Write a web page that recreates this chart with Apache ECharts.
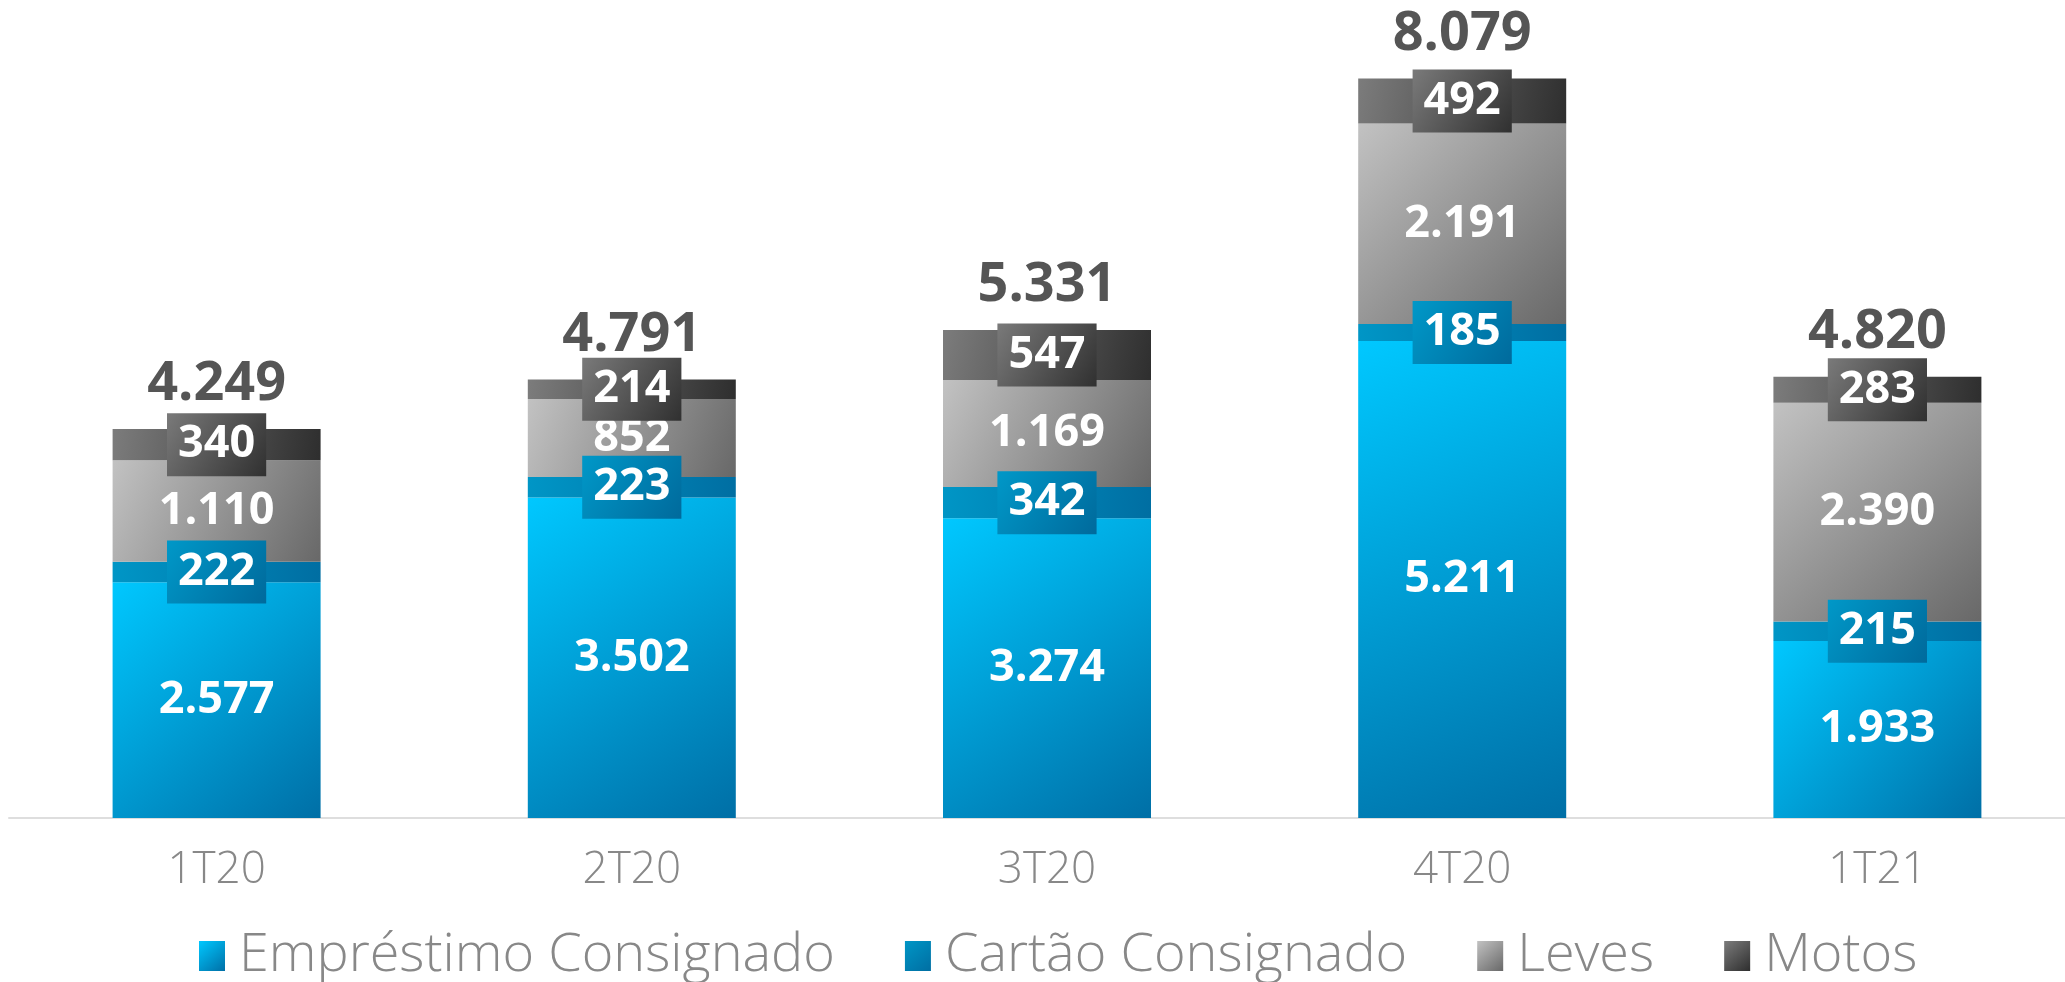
<!DOCTYPE html>
<html>
<head>
<meta charset="utf-8">
<script src="https://cdn.jsdelivr.net/npm/echarts@6.0.0/dist/echarts.min.js"></script>
<style>
  html, body { margin: 0; padding: 0; background: #fff; }
  #chart { width: 2065px; height: 982px; }
</style>
</head>
<body>
<div id="chart"></div>
<script>
// dados do gráfico (R$ milhões)
const categorias = ['1T20', '2T20', '3T20', '4T20', '1T21'];
const emprestimo = [2577, 3502, 3274, 5211, 1933];
const cartao = [222, 223, 342, 185, 215];
const leves = [1110, 852, 1169, 2191, 2390];
const motos = [340, 214, 547, 492, 283];
const totais = [4249, 4791, 5331, 8079, 4820];

const FONTE = '"Open Sans", "DejaVu Sans", sans-serif';

// separador de milhar no formato brasileiro
function fmt(v) {
  return String(v).replace(/\B(?=(\d{3})+(?!\d))/g, '.');
}

function grad(c1, c2) {
  return new echarts.graphic.LinearGradient(0, 0, 1, 1, [
    { offset: 0, color: c1 },
    { offset: 1, color: c2 }
  ]);
}

const chart = echarts.init(document.getElementById('chart'));

const rotuloBase = {
  show: true,
  position: 'inside',
  color: '#fff',
  fontFamily: FONTE,
  fontWeight: 'bold',
  fontSize: 45,
  formatter: p => fmt(p.value)
};

let option = {
  backgroundColor: '#fff',
  animation: false,
  grid: { left: 9, width: 2076, top: 40, bottom: 164, outerBoundsMode: 'none' },
  legend: {
    data: ['Empréstimo Consignado', 'Cartão Consignado', 'Leves', 'Motos'],
    left: 194,
    top: 924,
    icon: 'rect',
    itemWidth: 26,
    itemHeight: 30,
    itemGap: 70,
    textStyle: {
      color: '#888',
      fontFamily: FONTE,
      fontWeight: 300,
      fontSize: 54,
      padding: [0, 0, 0, 9]
    }
  },
  xAxis: {
    type: 'category',
    data: categorias,
    axisTick: { show: false },
    axisLine: { lineStyle: { color: '#dedede', width: 2 } },
    axisLabel: {
      color: '#888',
      fontFamily: FONTE,
      fontWeight: 300,
      fontSize: 44,
      margin: 30
    }
  },
  yAxis: {
    type: 'value',
    min: 0,
    max: 8500,
    show: false,
    splitLine: { show: false }
  },
  series: [
    {
      name: 'Empréstimo Consignado',
      type: 'bar',
      stack: 'total',
      barWidth: 208,
      data: emprestimo,
      itemStyle: { color: grad('#00c8ff', '#006fa6') },
      label: rotuloBase
    },
    {
      name: 'Cartão Consignado',
      type: 'bar',
      stack: 'total',
      data: cartao,
      itemStyle: { color: grad('#0096c6', '#006ea2') },
      label: Object.assign({}, rotuloBase, {
        backgroundColor: grad('#0098c8', '#006a9c'),
        padding: [9, 11, 9, 11],
        lineHeight: 45
      })
    },
    {
      name: 'Leves',
      type: 'bar',
      stack: 'total',
      data: leves,
      itemStyle: { color: grad('#c2c2c2', '#686868') },
      label: rotuloBase
    },
    {
      name: 'Motos',
      type: 'bar',
      stack: 'total',
      data: motos,
      itemStyle: { color: grad('#7c7c7c', '#2e2e2e') },
      label: Object.assign({}, rotuloBase, {
        backgroundColor: grad('#7a7a7a', '#303030'),
        padding: [9, 11, 9, 11],
        lineHeight: 45
      })
    },
    {
      name: 'Total',
      type: 'scatter',
      data: totais,
      symbolSize: 0,
      silent: true,
      label: {
        show: true,
        position: 'top',
        distance: 17,
        color: '#2b2b2b',
        fontFamily: FONTE,
        fontWeight: 'bold',
        fontSize: 54,
        formatter: p => fmt(p.value)
      }
    }
  ]
};

chart.setOption(option);
</script>
</body>
</html>
